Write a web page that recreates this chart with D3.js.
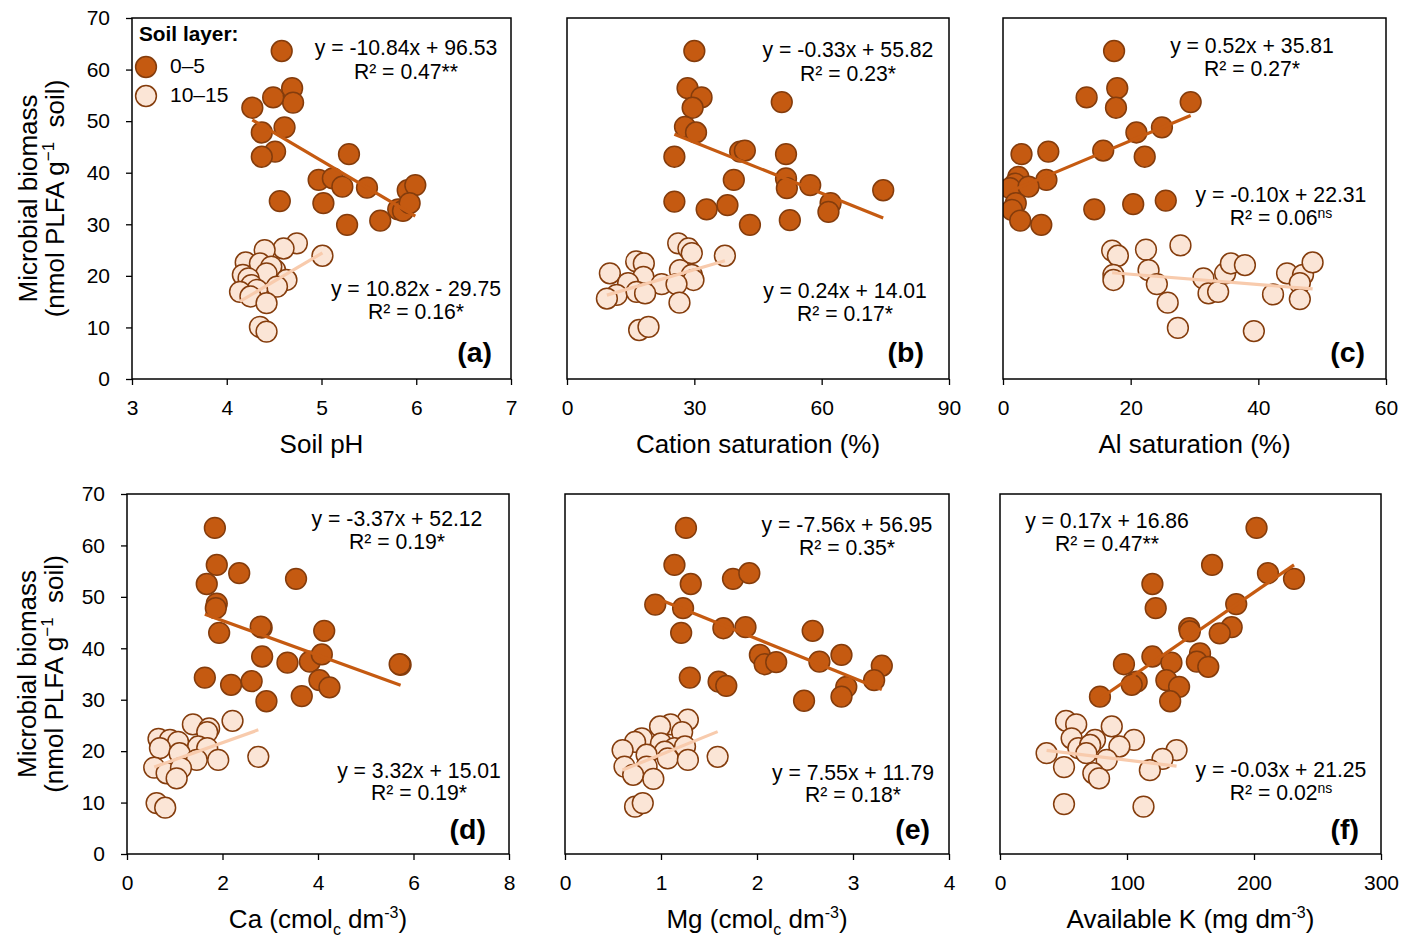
<!DOCTYPE html>
<html>
<head>
<meta charset="utf-8">
<script src="https://cdn.jsdelivr.net/npm/d3@7"></script>
<style>
  html, body { margin: 0; padding: 0; background: #fff; }
  svg { display: block; font-family: "Liberation Sans", Arial, sans-serif; }
</style>
</head>
<body>
<svg id="chart" width="1405" height="937"></svg>
<script>
// ---------------- DATA ----------------
const panelKeys = ["a", "b", "c", "d", "e", "f"];
const layerNames = ["0–5", "10–15"];
const yTicks = [0, 10, 20, 30, 40, 50, 60, 70];

const xTicksA = [3, 4, 5, 6, 7];
const xTicksB = [0, 30, 60, 90];
const xTicksC = [0, 20, 40, 60];
const xTicksD = [0, 2, 4, 6, 8];
const xTicksE = [0, 1, 2, 3, 4];
const xTicksF = [0, 100, 200, 300];

// Panel (a) Soil pH
const aTop = [[4.58,63.6],[4.69,56.4],[4.70,53.6],[4.49,54.6],[4.27,52.6],[4.37,47.8],[4.61,48.8],[4.51,44.1],[4.37,43.1],[5.29,43.6],[4.97,38.6],[5.12,38.9],[5.22,37.3],[5.48,37.1],[5.91,36.6],[5.99,37.6],[4.56,34.5],[5.02,34.1],[5.81,32.9],[5.86,32.6],[5.93,34.1],[5.27,29.9],[5.62,30.7]];
const aSub = [[4.74,26.3],[4.60,25.3],[4.40,25.0],[5.01,23.9],[4.20,22.6],[4.35,22.4],[4.51,21.1],[4.47,21.8],[4.42,20.5],[4.17,20.2],[4.63,19.2],[4.23,19.5],[4.53,17.9],[4.26,18.2],[4.32,17.3],[4.14,16.9],[4.25,16.0],[4.42,14.7],[4.35,10.1],[4.42,9.2]];
// Panel (b) Cation saturation
const bTop = [[30.0,63.6],[28.4,56.4],[31.7,54.6],[29.6,52.6],[27.8,48.9],[30.4,47.8],[50.6,53.7],[25.3,43.1],[40.8,44.1],[41.9,44.3],[51.6,43.6],[39.3,38.6],[51.6,38.9],[51.8,37.0],[57.3,37.6],[74.5,36.6],[25.3,34.4],[37.8,33.7],[32.9,32.9],[62.1,34.1],[61.6,32.4],[43.1,29.9],[52.5,30.8]];
const bSub = [[26.2,26.3],[28.6,25.3],[29.4,24.4],[37.2,23.9],[16.3,22.8],[18.1,22.4],[10.1,20.5],[26.6,21.1],[18.0,19.8],[29.4,20.2],[29.8,19.2],[14.4,18.6],[22.3,18.4],[25.8,18.4],[11.7,16.3],[16.4,16.9],[18.4,16.6],[9.4,15.6],[26.5,14.8],[17.0,9.5],[19.2,10.1]];
// Panel (c) Al saturation
const cTop = [[17.4,63.6],[17.9,56.4],[13.1,54.6],[17.7,52.6],[29.4,53.7],[24.9,48.8],[20.9,47.8],[2.9,43.6],[7.1,44.1],[15.7,44.3],[22.2,43.1],[6.8,38.6],[2.4,39.2],[1.9,37.9],[1.1,37.0],[4.0,37.3],[2.0,34.1],[1.4,32.8],[2.7,30.7],[6.0,29.9],[14.3,32.9],[20.4,33.9],[25.5,34.6]];
const cSub = [[17.1,24.9],[18.0,23.9],[22.4,25.1],[27.8,25.9],[17.3,20.2],[17.3,19.2],[22.8,21.1],[24.1,18.4],[25.8,14.8],[27.4,9.9],[31.4,19.5],[32.2,16.6],[33.7,16.9],[34.8,20.5],[35.7,22.4],[37.9,22.1],[39.3,9.3],[42.3,16.4],[44.5,20.5],[47.0,20.2],[46.5,18.6],[46.5,15.5],[48.5,22.6]];
// Panel (d) Ca
const dTop = [[1.84,63.4],[1.88,56.2],[2.35,54.6],[3.54,53.5],[1.67,52.5],[1.88,48.7],[1.86,47.8],[1.93,43.0],[2.82,44.0],[2.80,44.2],[4.13,43.4],[2.83,38.4],[3.36,37.2],[3.83,37.4],[4.08,38.8],[5.73,36.8],[5.71,36.9],[1.63,34.3],[2.18,32.9],[2.61,33.6],[4.03,33.8],[4.24,32.4],[2.92,29.7],[3.66,30.7]];
const dSub = [[2.21,25.9],[1.38,25.2],[1.72,24.4],[1.68,23.7],[0.66,22.4],[0.90,22.2],[1.07,21.8],[0.69,20.6],[1.49,20.9],[1.68,20.6],[1.10,19.6],[2.75,18.9],[1.91,18.3],[1.46,18.3],[0.57,16.8],[0.83,15.7],[1.13,16.7],[1.04,14.7],[0.62,9.9],[0.80,9.0]];
// Panel (e) Mg
const eTop = [[1.26,63.4],[1.14,56.2],[1.31,52.5],[1.75,53.5],[1.92,54.6],[0.94,48.5],[1.23,47.8],[1.21,43.0],[1.65,43.9],[1.88,44.1],[2.58,43.4],[2.03,38.7],[2.08,36.9],[2.20,37.3],[2.65,37.4],[2.88,38.7],[3.30,36.6],[3.22,33.8],[2.93,32.5],[2.88,30.6],[2.49,29.8],[1.30,34.3],[1.60,33.5],[1.68,32.7]];
const eSub = [[1.28,26.1],[1.10,25.2],[0.99,24.8],[1.22,23.7],[1.59,18.9],[0.80,22.5],[0.73,21.8],[0.60,20.2],[1.00,21.5],[1.14,20.6],[1.04,19.9],[1.25,20.9],[0.85,19.3],[1.07,18.6],[1.28,18.3],[0.62,17.0],[0.85,17.0],[0.71,15.4],[0.92,14.6],[0.73,9.2],[0.81,9.9]];
// Panel (f) Available K
const fTop = [[202,63.4],[167,56.2],[211,54.6],[231.5,53.5],[120,52.5],[186,48.6],[122.6,47.8],[149,43.9],[149.5,43.3],[182.4,44.1],[173,42.9],[120,38.4],[157.5,39.0],[155,37.4],[164,36.4],[135,37.2],[97.6,36.9],[107.6,33.5],[103.7,32.9],[131,33.8],[141,32.5],[134,29.7],[78.7,30.6]];
const fSub = [[52,25.9],[60,25.2],[88,24.8],[56.4,22.5],[74.8,22.2],[105.5,22.2],[94,20.9],[139,20.2],[36.7,19.6],[61.7,20.6],[71,21.2],[84,18.3],[128,18.5],[68,19.6],[50.4,16.9],[118,16.3],[73.5,15.7],[78,14.7],[50.4,9.7],[113,9.2]];

// Regression equations [slope, intercept]
const fitTop = [[-10.84, 96.53], [-0.33, 55.82], [0.52, 35.81], [-3.37, 52.12], [-7.56, 56.95], [0.17, 16.86]];
const fitSub = [[10.82, -29.75], [0.24, 14.01], [-0.10, 22.31], [3.32, 15.01], [7.55, 11.79], [-0.03, 21.25]];
const eqTopText = ["y = -10.84x + 96.53", "y = -0.33x + 55.82", "y = 0.52x + 35.81", "y = -3.37x + 52.12", "y = -7.56x + 56.95", "y = 0.17x + 16.86"];
const r2TopText = [["0.47", "**", ""], ["0.23", "*", ""], ["0.27", "*", ""], ["0.19", "*", ""], ["0.35", "*", ""], ["0.47", "**", ""]];
const eqSubText = ["y = 10.82x - 29.75", "y = 0.24x + 14.01", "y = -0.10x + 22.31", "y = 3.32x + 15.01", "y = 7.55x + 11.79", "y = -0.03x + 21.25"];
const r2SubText = [["0.16", "*", ""], ["0.17", "*", ""], ["0.06", "", "ns"], ["0.19", "*", ""], ["0.18", "*", ""], ["0.02", "", "ns"]];

const xDomains = [[3, 7], [0, 90], [0, 60], [0, 8], [0, 4], [0, 300]];
const xTickSets = [xTicksA, xTicksB, xTicksC, xTicksD, xTicksE, xTicksF];
const topSets = [aTop, bTop, cTop, dTop, eTop, fTop];
const subSets = [aSub, bSub, cSub, dSub, eSub, fSub];

// x-axis titles: list of [text, shift] parts; shift: 0 normal, -1 sub, 1 sup
const xTitles = [
  [["Soil pH", 0]],
  [["Cation saturation (%)", 0]],
  [["Al saturation (%)", 0]],
  [["Ca (cmol", 0], ["c", -1], [" dm", 0], ["-3", 1], [")", 0]],
  [["Mg (cmol", 0], ["c", -1], [" dm", 0], ["-3", 1], [")", 0]],
  [["Available K (mg dm", 0], ["-3", 1], [")", 0]]
];

// ---------------- LAYOUT (positions only) ----------------
const layout = [
  {left:132, right:511, top:18,  bottom:379, eqT:[406,55,79],  eqS:[416,296,319],  lab:[492,362]},
  {left:567, right:949, top:18,  bottom:379, eqT:[848,57,81],  eqS:[845,298,321],  lab:[924,362]},
  {left:1003,right:1386,top:18,  bottom:379, eqT:[1252,53,76], eqS:[1281,202,225], lab:[1365,362]},
  {left:127, right:509, top:494, bottom:854, eqT:[397,526,549],eqS:[419,778,800],  lab:[486,839]},
  {left:565, right:949, top:494, bottom:854, eqT:[847,532,555],eqS:[853,780,802],  lab:[930,839]},
  {left:1000,right:1381,top:494, bottom:854, eqT:[1107,528,551],eqS:[1281,777,800],lab:[1359,839]}
];

const colTopFill = "#C55A11", colSubFill = "#FBE5D6", colStroke = "#843C0C";
const colTopLine = "#C55A11", colSubLine = "#F8CBAD";
const R = 10.4;
const EQ_FS = 21.2;

const svg = d3.select("#chart");

layout.forEach((L, i) => {
  const g = svg.append("g");
  const x = d3.scaleLinear().domain(xDomains[i]).range([L.left, L.right]);
  const y = d3.scaleLinear().domain([0, 70]).range([L.bottom, L.top]);

  // x axis
  const xa = g.append("g").attr("transform", `translate(0,${L.bottom})`)
    .call(d3.axisBottom(x).tickValues(xTickSets[i]).tickSize(6).tickSizeOuter(0).tickPadding(15).tickFormat(d3.format("d")));
  xa.select(".domain").remove();
  xa.selectAll("line").attr("stroke", "#000").attr("stroke-width", 1.3);
  xa.selectAll("text").attr("font-size", 21).attr("fill", "#000").attr("font-family", "Liberation Sans, Arial, sans-serif");

  // y axis on left panels
  if (i === 0 || i === 3) {
    const ya = g.append("g").attr("transform", `translate(${L.left},0)`)
      .call(d3.axisLeft(y).tickValues(yTicks).tickSize(6).tickSizeOuter(0).tickPadding(16));
    ya.select(".domain").remove();
    ya.selectAll("line").attr("stroke", "#000").attr("stroke-width", 1.3);
    ya.selectAll("text").attr("font-size", 21).attr("fill", "#000").attr("font-family", "Liberation Sans, Arial, sans-serif");

    const cy = (L.top + L.bottom) / 2;
    const bx = i === 0 ? 37 : 36;
    svg.append("text").attr("transform", `translate(${bx},${cy}) rotate(-90)`)
      .attr("text-anchor", "middle").attr("font-size", 26).text("Microbial biomass");
    const t2 = svg.append("text").attr("transform", `translate(${bx + 27},${cy}) rotate(-90)`)
      .attr("text-anchor", "middle").attr("font-size", 26);
    t2.append("tspan").text("(nmol PLFA g");
    t2.append("tspan").attr("font-size", 17).attr("dy", -10).text("\u22121");
    t2.append("tspan").attr("dy", 10).attr("xml:space", "preserve").text("\u00A0\u00A0soil)");
  }

  // x title
  const xt = g.append("text").attr("x", (L.left + L.right) / 2).attr("y", L.bottom + 74)
    .attr("text-anchor", "middle").attr("font-size", 26);
  let cur = 0;
  xTitles[i].forEach(([txt, s]) => {
    const target = s === -1 ? 7 : (s === 1 ? -10 : 0);
    const sp = xt.append("tspan").attr("dy", target - cur).text(txt);
    if (s !== 0) sp.attr("font-size", 16);
    cur = target;
  });

  // clip
  const clipId = "clip" + i;
  svg.append("clipPath").attr("id", clipId).append("rect")
    .attr("x", L.left).attr("y", L.top).attr("width", L.right - L.left).attr("height", L.bottom - L.top);
  const pg = g.append("g").attr("clip-path", `url(#${clipId})`);

  // points
  pg.selectAll("circle.sub").data(subSets[i]).join("circle").attr("class", "sub")
    .attr("cx", d => x(d[0])).attr("cy", d => y(d[1])).attr("r", R)
    .attr("fill", colSubFill).attr("stroke", colStroke).attr("stroke-width", 1.5);
  pg.selectAll("circle.top").data(topSets[i]).join("circle").attr("class", "top")
    .attr("cx", d => x(d[0])).attr("cy", d => y(d[1])).attr("r", R)
    .attr("fill", colTopFill).attr("stroke", colStroke).attr("stroke-width", 1.5);

  // trend lines
  const drawFit = (data, fit, col) => {
    const ext = d3.extent(data, d => d[0]);
    const pts = ext.map(v => [v, fit[0] * v + fit[1]]);
    pg.append("path").attr("d", d3.line().x(d => x(d[0])).y(d => y(d[1]))(pts))
      .attr("stroke", col).attr("stroke-width", 3.2).attr("fill", "none");
  };
  drawFit(topSets[i], fitTop[i], colTopLine);
  drawFit(subSets[i], fitSub[i], colSubLine);

  // frame
  g.append("rect").attr("x", L.left).attr("y", L.top)
    .attr("width", L.right - L.left).attr("height", L.bottom - L.top)
    .attr("fill", "none").attr("stroke", "#000").attr("stroke-width", 1.5);

  // equations
  const eqBlock = (pos, eq, r2) => {
    g.append("text").attr("x", pos[0]).attr("y", pos[1]).attr("text-anchor", "middle")
      .attr("font-size", EQ_FS).text(eq);
    const t = g.append("text").attr("x", pos[0]).attr("y", pos[2]).attr("text-anchor", "middle")
      .attr("font-size", EQ_FS);
    t.append("tspan").text("R\u00B2 = " + r2[0] + r2[1]);
    if (r2[2]) t.append("tspan").attr("font-size", 14).attr("dy", -7).text(r2[2]);
  };
  eqBlock(L.eqT, eqTopText[i], r2TopText[i]);
  eqBlock(L.eqS, eqSubText[i], r2SubText[i]);

  // panel label
  g.append("text").attr("x", L.lab[0]).attr("y", L.lab[1]).attr("text-anchor", "end")
    .attr("font-size", 28.5).attr("font-weight", "bold").text("(" + panelKeys[i] + ")");
});

// legend in panel (a)
const lg = svg.append("g");
lg.append("text").attr("x", 139).attr("y", 41).attr("font-size", 20.8).attr("font-weight", "bold").text("Soil layer:");
[[colTopFill, 67, 73], [colSubFill, 96, 102]].forEach((c, k) => {
  lg.append("circle").attr("cx", 146).attr("cy", c[1]).attr("r", R)
    .attr("fill", c[0]).attr("stroke", colStroke).attr("stroke-width", 1.5);
  lg.append("text").attr("x", 170).attr("y", c[2]).attr("font-size", 21).text(layerNames[k]);
});
</script>
</body>
</html>
